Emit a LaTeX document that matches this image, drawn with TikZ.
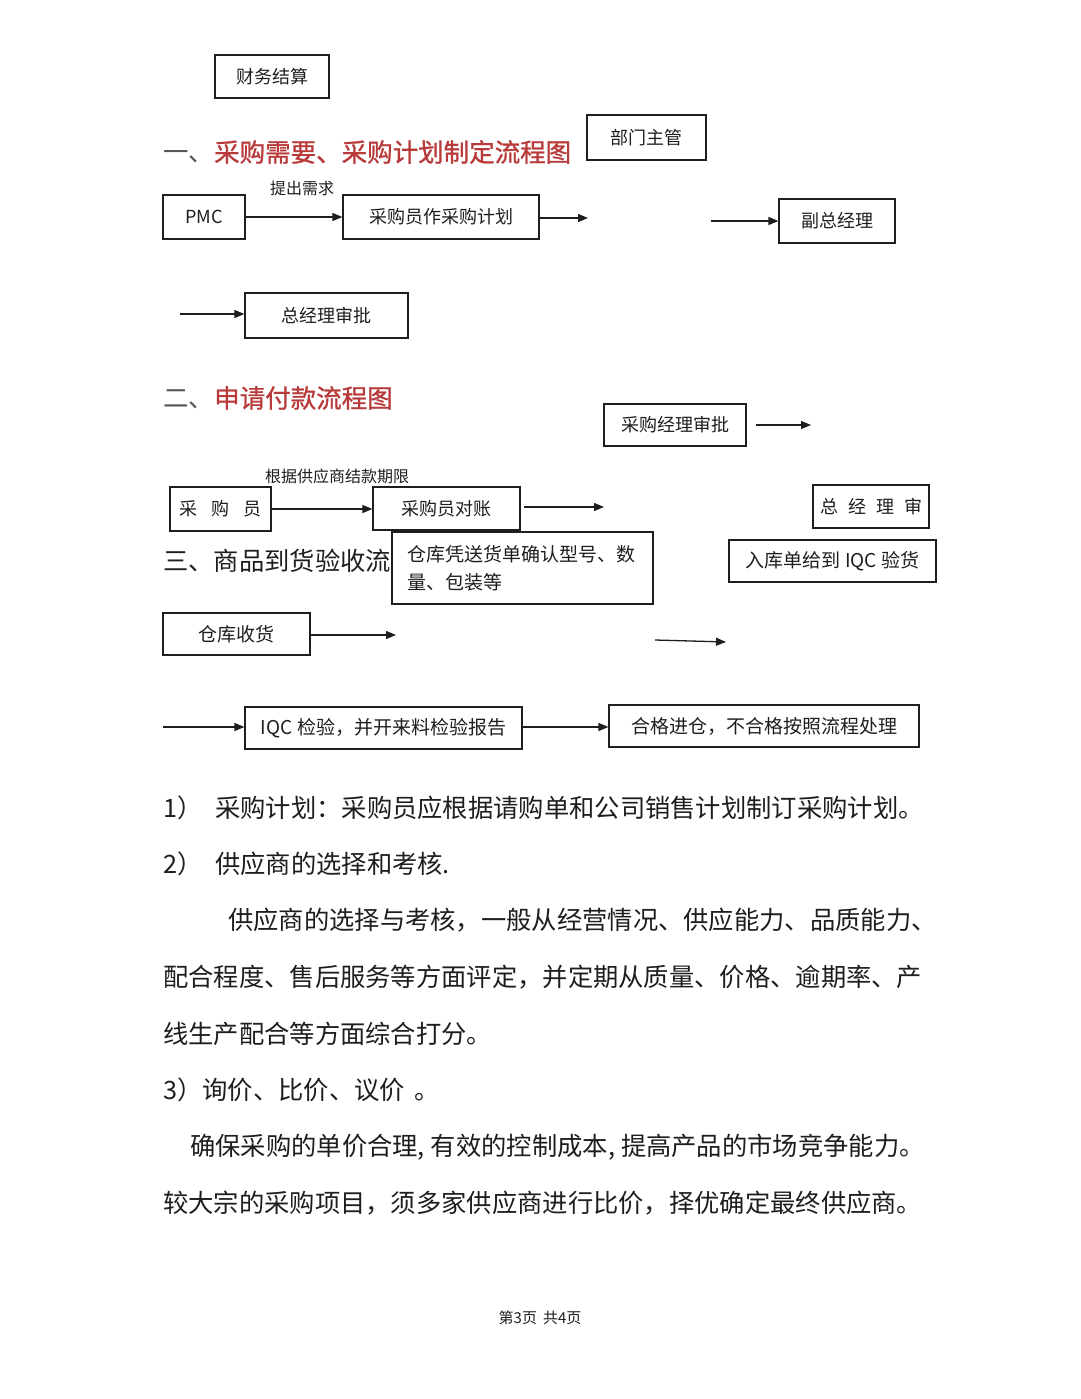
\documentclass[tikz,border=0pt]{standalone}
\usepackage{fontspec}
\setmainfont{Noto Sans CJK SC}
\newfontfamily\ttlfont[FakeBold=1]{Noto Sans CJK SC}
\usetikzlibrary{arrows.meta}
\definecolor{titlered}{HTML}{B83A3A}
\definecolor{ink}{HTML}{1E1E1E}
\tikzset{
  box/.style={draw=ink, line width=1.2pt, fill=white, inner sep=0pt, text=ink,
    font=\fontsize{18pt}{22pt}\selectfont},
  bigbox/.style={box, font=\fontsize{19pt}{28pt}\selectfont},
  flow/.style={draw=ink, line width=1.3pt, -{Triangle[length=10pt,width=8pt]}},
  lbl/.style={inner sep=0pt, text=ink, font=\fontsize{16pt}{19pt}\selectfont},
  ttl/.style={inner sep=0pt, anchor=west, font=\fontsize{25.5pt}{30pt}\selectfont},
  para/.style={inner sep=0pt, anchor=west, text=ink, font=\fontsize{25.3pt}{30pt}\selectfont},
}
\begin{document}
\begin{tikzpicture}[x=1pt,y=-1pt]
\fill[white] (0,0) rectangle (1080,1399);
\useasboundingbox (0,0) rectangle (1080,1399);

% ---- top boxes
\node[box, minimum width=114pt, minimum height=43pt] (fin) at (272,76.5) {财务结算};
\node[box, minimum width=119pt, minimum height=45pt] (dept) at (646.5,137.5) {部门主管};

% ---- section 1
\node[ttl] (t1) at (163,152) {\textcolor{ink!75}{一、}\textcolor{titlered}{\ttlfont 采购需要、采购计划制定流程图}};
\node[box, minimum width=82pt, minimum height=44pt] (pmc) at (204,217) {PMC};
\node[box, minimum width=196pt, minimum height=44pt] (plan) at (441,217) {采购员作采购计划};
\node[lbl] (need) at (302,188) {提出需求};
\node[box, minimum width=116pt, minimum height=44pt] (vgm) at (837,221) {副总经理};
\node[box, minimum width=163pt, minimum height=45pt] (gm1) at (326.5,315.5) {总经理审批};
\coordinate (c1) at (588,218);
\coordinate (c2) at (711,221);
\coordinate (c3) at (180,314);
\draw[flow] (pmc.east) -- (plan.west);
\draw[flow] (plan.east |- c1) -- (c1);
\draw[flow] (c2) -- (vgm.west);
\draw[flow] (c3) -- (gm1.west |- c3);

% ---- section 2
\node[ttl] (t2) at (163,398) {\textcolor{ink!75}{二、}\textcolor{titlered}{\ttlfont 申请付款流程图}};
\node[box, minimum width=142pt, minimum height=42pt] (pmgr) at (675,425) {采购经理审批};
\coordinate (c4) at (811,425);
\node[lbl] (term) at (337,476) {根据供应商结款期限};
\node[box, minimum width=101pt, minimum height=44pt] (buyer) at (220.5,509) {采\hspace{14pt}购\hspace{14pt}员};
\node[box, minimum width=147pt, minimum height=43pt] (recon) at (446.5,508.5) {采购员对账};
\node[box, minimum width=116pt, minimum height=43pt] (gm2) at (871,506.5) {总\hspace{10pt}经\hspace{10pt}理\hspace{10pt}审};
\coordinate (c5) at (604,507);
\draw[flow] ([xshift=9pt]pmgr.east) -- (c4);
\draw[flow] (buyer.east) -- (recon.west |- buyer.east);
\draw[flow] ([xshift=3pt]recon.east |- c5) -- (c5);

% ---- section 3
\node[para] (t3) at (163,561) {三、商品到货验收流};
\node[bigbox, text width=231pt, inner xsep=15pt, minimum height=72pt, align=left] (whconf) at (522.5,568) {仓库凭送货单确认型号、数\\量、包装等};
\node[bigbox, minimum width=207pt, minimum height=42pt] (toiqc) at (832.5,561) {入库单给到 IQC 验货};
\node[bigbox, minimum width=147pt, minimum height=42pt] (whrecv) at (236.5,634) {仓库收货};
\node[bigbox, minimum width=277pt, minimum height=42pt] (iqc) at (383.5,728) {IQC 检验，并开来料检验报告};
\node[bigbox, minimum width=310pt, minimum height=42pt] (ok) at (764,726) {合格进仓，不合格按照流程处理};
\coordinate (c6) at (396,635);
\coordinate (c7) at (655,640);
\coordinate (c8) at (726,642);
\coordinate (c9) at (163,727);
\draw[flow] (whrecv.east |- c6) -- (c6);
\draw[flow] (c7) -- (c8);
\draw[flow] (c9) -- (iqc.west |- c9);
\draw[flow] (iqc.east |- c9) -- (ok.west |- c9);

% ---- text
\node[para] (n1) at (163,808) {1）};
\node[para] (p1) at (215,808) {采购计划：采购员应根据请购单和公司销售计划制订采购计划。};
\node[para] (n2) at (163,864) {2）};
\node[para] (p2) at (215,864) {供应商的选择和考核.};
\node[para] (p3) at (228,920) {供应商的选择与考核，一般从经营情况、供应能力、品质能力、};
\node[para] (p4) at (163,977) {配合程度、售后服务等方面评定，并定期从质量、价格、逾期率、产};
\node[para] (p5) at (163,1034) {线生产配合等方面综合打分。};
\node[para] (p6) at (163,1090) {3）询价、比价、议价 \,。};
\node[para] (p7) at (190,1147) {确保采购的单价合理,\kern6pt 有效的控制成本,\kern6pt 提高产品的市场竞争能力。};
\node[para] (p8) at (163,1203) {较大宗的采购项目，须多家供应商进行比价，择优确定最终供应商。};
\node[lbl, font=\fontsize{15pt}{18pt}\selectfont] (foot) at (540,1318) {第3页\hspace{6pt}共4页};
\end{tikzpicture}
\end{document}
